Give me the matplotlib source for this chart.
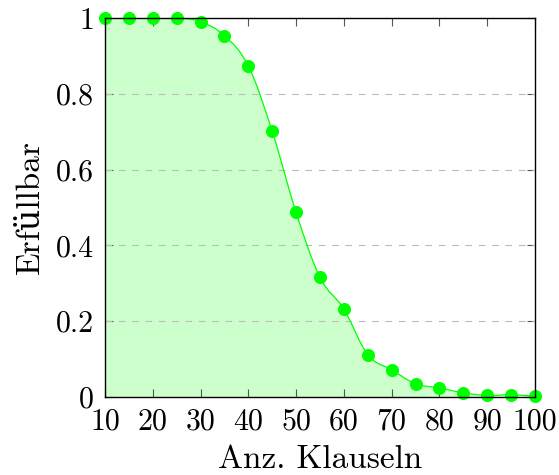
import numpy as np
import matplotlib
matplotlib.use("Agg")
import matplotlib.pyplot as plt
from matplotlib.path import Path
from matplotlib.patches import PathPatch

plt.rcParams['font.family'] = ['cmr10', 'DejaVu Serif']
plt.rcParams['axes.formatter.use_mathtext'] = True

clauses = [10, 15, 20, 25, 30, 35, 40, 45, 50, 55, 60, 65, 70, 75, 80, 85, 90, 95, 100]
satisfiable = [1.0, 1.0, 1.0, 1.0, 0.990, 0.953, 0.873, 0.701, 0.487, 0.316, 0.232,
               0.112, 0.072, 0.035, 0.024, 0.011, 0.004, 0.006, 0.002]
xticks = [10, 20, 30, 40, 50, 60, 70, 80, 90, 100]
yticks = [0, 0.2, 0.4, 0.6, 0.8, 1]
ytick_labels = ["0", "0.2", "0.4", "0.6", "0.8", "1"]

GREEN = "#00ff00"
FILL = "#ccffcc"

fig = plt.figure(figsize=(5.59, 4.75), dpi=100)
ax = fig.add_axes([105/559, 1-397/475, 430/559, 379/475])
ax.set_xlim(10, 100)
ax.set_ylim(0, 1)

x = np.asarray(clauses, float)
y = np.asarray(satisfiable, float)

# smooth curve through the data (cubic Bezier segments, tension like TikZ smooth)
t = 0.55 / 3.0
verts = [(x[0], y[0])]
codes = [Path.MOVETO]
n = len(x)
for i in range(n - 1):
    xp = x[i-1] if i > 0 else x[i]
    yp = y[i-1] if i > 0 else y[i]
    xn2 = x[i+2] if i + 2 < n else x[i+1]
    yn2 = y[i+2] if i + 2 < n else y[i+1]
    c1 = (x[i] + t * (x[i+1] - xp), y[i] + t * (y[i+1] - yp))
    c2 = (x[i+1] - t * (xn2 - x[i]), y[i+1] - t * (yn2 - y[i]))
    verts += [c1, c2, (x[i+1], y[i+1])]
    codes += [Path.CURVE4] * 3

fill_verts = verts + [(x[-1], 0), (x[0], 0), (x[0], y[0])]
fill_codes = codes + [Path.LINETO, Path.LINETO, Path.CLOSEPOLY]
ax.add_patch(PathPatch(Path(fill_verts, fill_codes), facecolor=FILL, edgecolor='none', zorder=1))
ax.add_patch(PathPatch(Path(verts, codes), facecolor='none', edgecolor=GREEN, lw=0.9, zorder=3))
ax.plot(x, y, 'o', color=GREEN, ms=8.4, zorder=4, clip_on=False)

for v in yticks[1:-1]:
    ax.axhline(v, color='#bbbbbb', lw=0.8, ls=(0, (6, 6)), zorder=2)

ax.set_xticks(xticks)
ax.set_xticklabels([str(v) for v in xticks])
ax.set_yticks(yticks)
ax.set_yticklabels(ytick_labels)
ax.tick_params(direction='in', top=True, right=True, length=6, width=0.8,
               color='#555555', labelsize=21.5)
ax.tick_params(axis='x', pad=8)
ax.tick_params(axis='y', pad=8)
for s in ax.spines.values():
    s.set_linewidth(1.0)
    s.set_zorder(5)

ax.set_xlabel("Anz. Klauseln", fontsize=24, labelpad=7)
ax.set_ylabel("Erfüllbar", fontsize=24, labelpad=8)

fig.savefig("out.png", dpi=100)
